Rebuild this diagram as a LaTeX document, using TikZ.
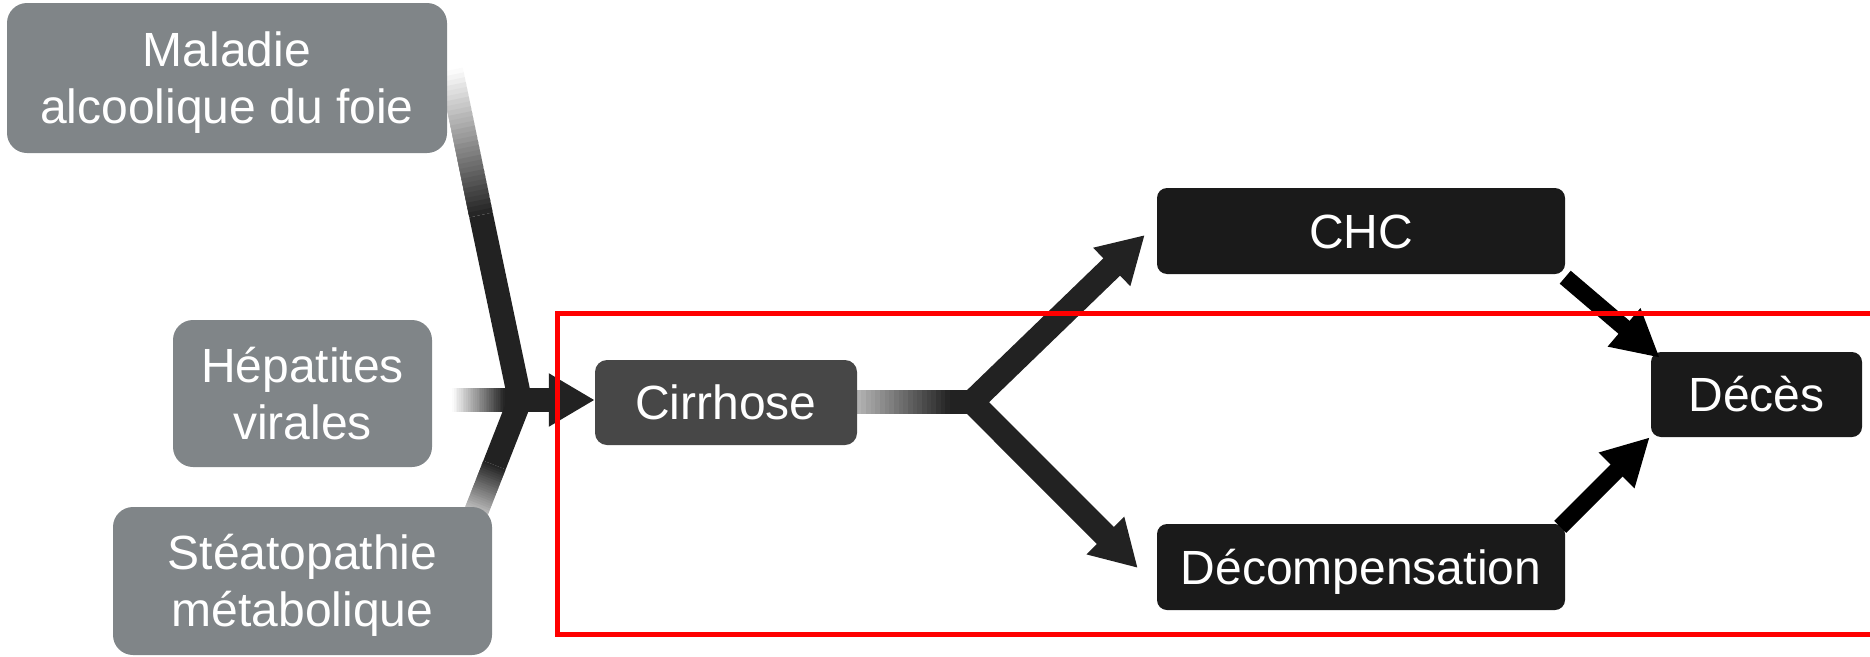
\documentclass[tikz,border=0pt]{standalone}
\usepackage{fontspec}
\setmainfont{Liberation Sans}
\usetikzlibrary{arrows.meta,calc}
\definecolor{boxgray}{RGB}{128,133,136}
\definecolor{cirgray}{RGB}{71,71,71}
\definecolor{boxblack}{RGB}{26,26,26}
\definecolor{bandc}{RGB}{34,34,34}
\newcommand\mygradband[2]{%
  \foreach \i in {0,...,29}{%
    \pgfmathsetmacro\ta{\i/30}%
    \pgfmathsetmacro\tb{min(1,(\i+1.6)/30)}%
    \pgfmathtruncatemacro\pc{round(100*(\i+0.5)/30)}%
    \draw[line width=24pt, draw=bandc!\pc!white] ($(#1)!\ta!(#2)$) -- ($(#1)!\tb!(#2)$);
  }}
\begin{document}
\begin{tikzpicture}[x=1pt,y=-1pt,
  box/.style={inner sep=0pt, align=center, text=white, font=\fontsize{48}{57}\selectfont,
    text height=34.4pt, text depth=0pt},
  graybox/.style={box, fill=boxgray, rounded corners=20pt, text height=91.4pt},
  cirbox/.style={box, fill=cirgray, rounded corners=12pt},
  blackbox/.style={box, fill=boxblack, rounded corners=10pt},
  band/.style={line width=24pt, draw=bandc},
  bigarrow/.style={band, -{Triangle[length=46pt,width=50pt]}},
  smallarrow/.style={line width=17pt, draw=black, -{Triangle[length=47pt,width=47pt]}},
  frame/.style={draw=red, line width=5pt, inner sep=0pt, outer sep=0pt}]
\useasboundingbox (0,0) rectangle (1870,656);

% coordinates of the bands
\coordinate (M) at (520,400);
\coordinate (B) at (972,402);
\coordinate (S1) at (451,70);  \coordinate (G1) at (481,215);
\coordinate (S2) at (452,400); \coordinate (G2) at (505,400);
\coordinate (S3) at (469,530); \coordinate (G3) at (494.5,465);
\coordinate (S4) at (810,402); \coordinate (G4) at (950,402);

% incoming bands
\mygradband{S1}{G1}
\draw[band] (G1) -- (M);
\mygradband{S2}{G2}
\draw[band] (G2) -- (M);
\mygradband{S3}{G3}
\draw[band] (G3) -- (M);
\mygradband{S4}{G4}
\draw[band] (G4) -- (B);

% nodes
\node[graybox, minimum width=440pt, minimum height=150pt] (mal) at (227,78) {Maladie\\alcoolique du foie};
\node[graybox, minimum width=259pt, minimum height=147pt] (hep) at (302.5,393.5) {Hépatites\\virales};
\node[graybox, minimum width=379pt, minimum height=148pt] (ste) at (302.5,581) {Stéatopathie\\métabolique};
\node[cirbox, minimum width=262pt, minimum height=85pt] (cir) at (726,402.5) {Cirrhose};
\node[blackbox, minimum width=408pt, minimum height=86pt] (chc) at (1361,231) {CHC};
\node[blackbox, minimum width=408pt, minimum height=86pt] (dec) at (1361,567) {Décompensation};
\node[blackbox, minimum width=211pt, minimum height=85pt] (dcs) at (1756.5,394.5) {Décès};

% arrows
\draw[bigarrow] ($(M)+(-6,0)$) -- (cir.west |- M);
\draw[bigarrow, line cap=round] (B) -- ($(chc.west)+(-12,4)$);
\draw[bigarrow, line cap=round] (B) -- ($(dec.west)+(-19,1)$);
\draw[smallarrow] ($(chc.south east)+(0,3)$) -- ($(dcs.north west)+(9,6)$);
\draw[smallarrow] ($(dec.north east)+(-5,3)$) -- ($(dcs.south west)+(-1,0)$);

% red frame
\node[frame, minimum width=1330pt, minimum height=321pt, anchor=north west] (fr) at (557.5,313.5) {};
\end{tikzpicture}
\end{document}
